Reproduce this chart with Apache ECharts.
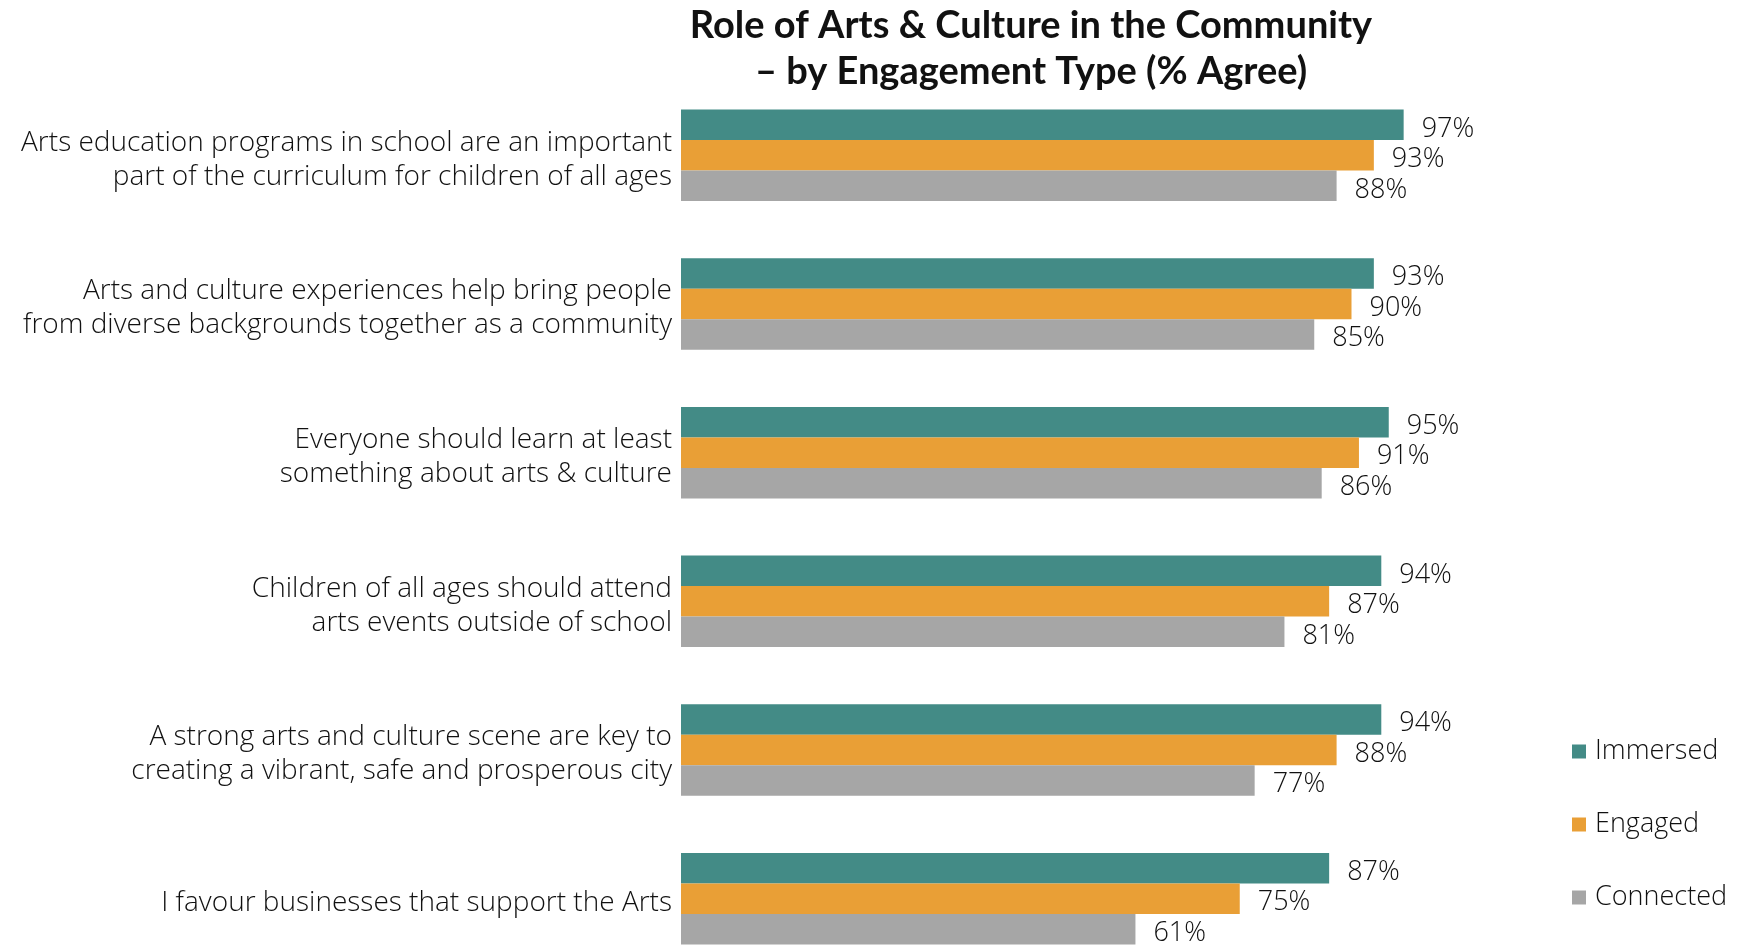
<!DOCTYPE html>
<html>
<head>
<meta charset="utf-8">
<script src="https://cdn.jsdelivr.net/npm/echarts@6/dist/echarts.min.js"></script>
<style>
html,body{margin:0;padding:0;background:#fff;}
#chart{width:1739px;height:946px;}
</style>
</head>
<body>
<div id="chart"></div>
<script>
const categories = [
  "Arts education programs in school are an important\npart of the curriculum for children of all ages",
  "Arts and culture experiences help bring people\nfrom diverse backgrounds together as a community",
  "Everyone should learn at least\nsomething about arts & culture",
  "Children of all ages should attend\narts events outside of school",
  "A strong arts and culture scene are key to\ncreating a vibrant, safe and prosperous city",
  "I favour businesses that support the Arts"
];
const seriesNames = ["Immersed", "Engaged", "Connected"];
const immersed = [97, 93, 95, 94, 94, 87];
const engaged = [93, 90, 91, 87, 88, 75];
const connected = [88, 85, 86, 81, 77, 61];
const colors = ["#438B86", "#E99F36", "#A6A6A6"];

const FONT = "Open Sans";
const chart = echarts.init(document.getElementById('chart'));
const values = [immersed, engaged, connected];

chart.setOption({
  animation: false,
  title: {
    text: "Role of Arts & Culture in the Community\n\u2013 by Engagement Type (% Agree)",
    left: 1026,
    textAlign: 'center',
    top: -2,
    textStyle: {fontFamily: "Lato", fontWeight: 'bold', fontSize: 38, lineHeight: 46, color: '#111'}
  },
  legend: {
    orient: 'vertical',
    left: 1567,
    top: 733,
    itemWidth: 14,
    itemHeight: 14,
    itemGap: 46,
    icon: 'rect',
    data: seriesNames,
    textStyle: {fontFamily: FONT, fontWeight: 300, fontSize: 27, color: '#111', padding: [0,0,0,4]}
  },
  grid: {left: 681, top: 81, width: 745, height: 892, outerBoundsMode: 'none', containLabel: false},
  xAxis: {
    type: 'value', min: 0, max: 100, show: false
  },
  yAxis: {
    type: 'category', data: categories, inverse: true,
    axisLine: {show: false}, axisTick: {show: false},
    axisLabel: {
      margin: 9, align: 'right',
      formatter: v => '{t|' + v.split('\n').join('}\n{t|') + '}',
      rich: {t: {fontFamily: FONT, fontWeight: 300, fontSize: 28, lineHeight: 34, color: '#111', padding: [9, 0, 0, 0]}}
    }
  },
  series: seriesNames.map((n, i) => ({
    name: n, type: 'bar', data: values[i],
    barWidth: 30.5, barGap: '0%',
    itemStyle: {color: colors[i]},
    label: {show: true, position: 'right', distance: 18, offset: [0, 4], formatter: '{c}%',
      fontFamily: FONT, fontWeight: 300, fontSize: 27, color: '#111'}
  }))
});
</script>
</body>
</html>
